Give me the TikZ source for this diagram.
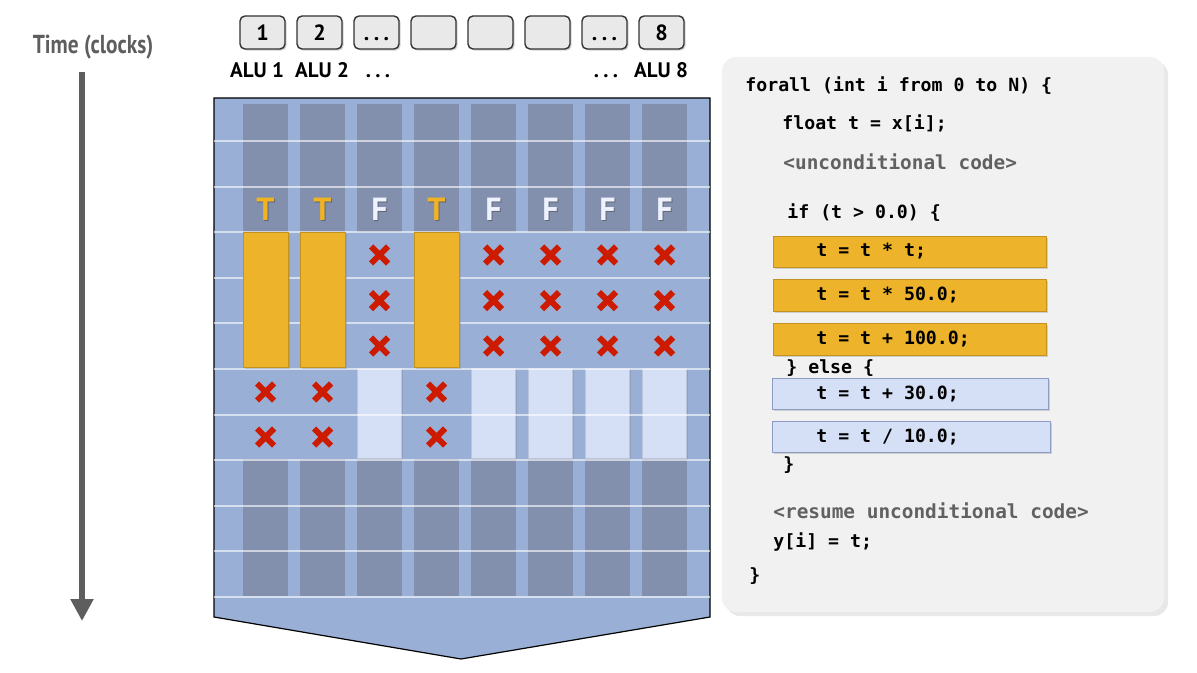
\documentclass[tikz,border=0pt]{standalone}
\usepackage{fontspec}
\setmainfont{PT Sans}
\newfontfamily\codefont{DejaVu Sans Mono}
\usetikzlibrary{arrows.meta,shadows}

\definecolor{laneback}{HTML}{9AAFD5}
\definecolor{lanegray}{HTML}{8290AD}
\definecolor{thenfill}{HTML}{EDB32B}
\definecolor{thenline}{HTML}{C4921E}
\definecolor{elsefill}{HTML}{D5DFF6}
\definecolor{elseline}{HTML}{8C9CC2}
\definecolor{boxgray}{HTML}{E9E9E9}
\definecolor{codeback}{HTML}{F1F1F1}
\definecolor{maskred}{HTML}{CC1B00}
\definecolor{timegray}{HTML}{5E5E5E}
\definecolor{flagT}{HTML}{F2B323}
\definecolor{flagF}{HTML}{EEF2FF}

\newcommand{\aludots}{.\hspace{2.2pt}.\hspace{2.2pt}.}

\begin{document}
\begin{tikzpicture}[x=0.5pt,y=-0.5pt,
  every node/.style={inner sep=0pt},
  alubox/.style={draw=black!80,fill=boxgray,rounded corners=2.5pt,line width=0.7pt,
    minimum width=22.5pt,minimum height=16.5pt,text height=7.8pt,text depth=0pt,
    font=\fontsize{11}{13}\selectfont\bfseries,
    drop shadow={shadow xshift=0.8pt,shadow yshift=-0.8pt,opacity=0.35}},
  alulabel/.style={anchor=base,font=\fontsize{10.5}{12}\selectfont\bfseries},
  timearrow/.style={draw=timegray,line width=2.6pt,-{Triangle[length=11pt,width=11pt]}},
  rowline/.style={draw=white,opacity=0.6,line width=1pt},
  thenbox/.style={fill=thenfill,draw=thenline,line width=0.4pt,
    drop shadow={shadow xshift=1pt,shadow yshift=-1pt,opacity=0.3}},
  elsebox/.style={fill=elsefill,draw=elseline!60,line width=0.3pt,
    drop shadow={shadow xshift=1pt,shadow yshift=-1pt,opacity=0.3}},
  tflag/.style={font=\fontsize{16}{18}\selectfont\bfseries},
  xmark/.style={draw=maskred,line width=3pt},
  maskx/.pic={\draw[xmark] (-8.5,-8.5) -- (8.5,8.5) (-8.5,8.5) -- (8.5,-8.5);},
  codepanel/.style={fill=codeback,rounded corners=7pt,
    drop shadow={shadow xshift=2pt,shadow yshift=-2pt,opacity=0.18}},
  code/.style={anchor=west,font=\codefont\fontsize{9.1}{11}\selectfont\bfseries},
  graycode/.style={anchor=west,text=black!62,font=\codefont\fontsize{9.7}{12}\selectfont\bfseries}]

\useasboundingbox (0,0) rectangle (1197,673);

% time axis
\node[font=\fontsize{13}{15}\selectfont\bfseries,text=timegray] (timelbl) at (93,47) {\scalebox{0.82}[1]{Time (clocks)}};
\coordinate (ttop) at (82,72);
\coordinate (tbot) at (82,621);
\draw[timearrow] (ttop) -- (tbot);

% ALUs
\foreach \lbl [count=\i] in {1,2,\aludots,{},{},{},\aludots,8}
  \node[alubox] (box\i) at ({262.5+57*(\i-1)},32.5) {\lbl};
\node[alulabel] (alu1) at (257,78) {ALU 1};
\node[alulabel] (alu2) at (322,78) {ALU 2};
\node[alulabel] (dotsa) at (378,78) {\aludots};
\node[alulabel] (dotsb) at (606,78) {\aludots};
\node[alulabel] (alu8) at (661,78) {ALU 8};

% lanes
\draw[fill=laneback,line width=0.6pt] (214,98) -- (710,98) -- (710,617) -- (461,659) -- (214,617) -- cycle;
\foreach \i in {0,...,7} {
  \fill[lanegray] ({243+57*\i},104) rectangle +(45,128);
  \fill[lanegray] ({243+57*\i},459) rectangle +(45,137);
}
\foreach \i in {3,5,6,7,8}
  \draw[elsebox] ({243+57*(\i-1)},368) rectangle +(44,90);
\foreach \k in {0,...,10}
  \draw[rowline] (214,{141+45.6*\k}) -- (710,{141+45.6*\k});

% true lanes
\foreach \i in {1,2,4} {
  \draw[thenbox] ({243+57*(\i-1)},232) rectangle +(45,135);
  \node[tflag,text=black!70,opacity=0.6] (flagsh\i) at ({266.5+57*(\i-1)},210.5) {T};
  \node[tflag,text=flagT] (flag\i) at ({265.5+57*(\i-1)},209) {T};
  \foreach \r in {392,437}
    \pic at ({265.5+57*(\i-1)},\r) {maskx};
}
% false lanes
\foreach \i in {3,5,6,7,8} {
  \node[tflag,text=black!70,opacity=0.6] (flagsh\i) at ({266.5+57*(\i-1)},210.5) {F};
  \node[tflag,text=flagF] (flag\i) at ({265.5+57*(\i-1)},209) {F};
  \foreach \r in {255,300.6,346}
    \pic at ({265.5+57*(\i-1)},\r) {maskx};
}

% code
\fill[codepanel] (722,57) rectangle (1164,612);
\draw[thenbox] (773,236) rectangle (1046,267);
\draw[thenbox] (773,279) rectangle (1046,311);
\draw[thenbox] (773,323) rectangle (1046,355);
\draw[elsebox,draw=elseline] (772,378) rectangle (1048,409);
\draw[elsebox,draw=elseline] (772,421) rectangle (1050,452);
\node[code] (c1) at (745,86) {forall (int i from 0 to N) \{};
\node[code] (c2) at (782,123) {float t = x[i];};
\node[graycode] (c3) at (783,162) {<unconditional code>};
\node[code] (c4) at (787,213) {if (t > 0.0) \{};
\node[code] (c5) at (816,251) {t = t * t;};
\node[code] (c6) at (816,295) {t = t * 50.0;};
\node[code] (c7) at (816,339) {t = t + 100.0;};
\node[code] (c8) at (786,368) {\} else \{};
\node[code] (c9) at (816,394) {t = t + 30.0;};
\node[code] (c10) at (816,437) {t = t / 10.0;};
\node[code] (c11) at (783,465) {\}};
\node[graycode] (c12) at (773,511) {<resume unconditional code>};
\node[code] (c13) at (773,542) {y[i] = t;};
\node[code] (c14) at (749,576) {\}};
\end{tikzpicture}
\end{document}
